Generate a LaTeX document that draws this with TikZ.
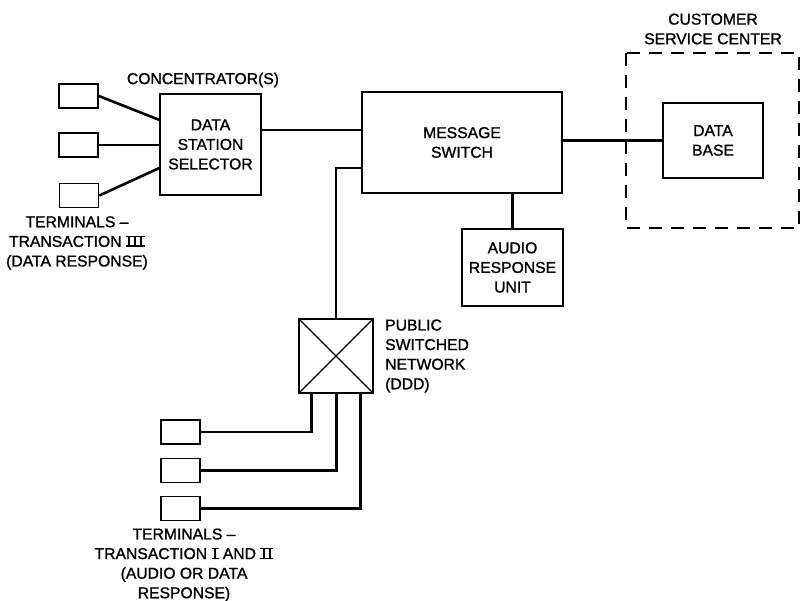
\documentclass[tikz,border=0pt]{standalone}
\usepackage{fontspec}
\setmainfont[FakeBold=1.2,AutoFakeBold=1.2]{Liberation Sans}
\usetikzlibrary{calc}
\newcommand\rstem{\rule{2pt}{11.2pt}}
\newcommand\rnum[1]{\setbox0\hbox{#1}\rlap{\rule[0pt]{\wd0}{1.5pt}}\rlap{\rule[\dimexpr\ht0-1.5pt\relax]{\wd0}{1.5pt}}\box0}
\newcommand\rI{\rnum{\kern2.5pt\rstem\kern2.5pt}}
\newcommand\rII{\rnum{\kern2.5pt\rstem\kern4pt\rstem\kern2.5pt}}
\newcommand\rIII{\rnum{\kern2.5pt\rstem\kern4pt\rstem\kern4pt\rstem\kern2.5pt}}
\begin{document}
\begin{tikzpicture}[x=1pt,y=-1pt,
  every node/.style={font=\fontsize{15.7}{19.6}\selectfont\bfseries},
  box/.style={draw,line width=1.7pt,inner sep=0pt},
  term/.style={box,minimum width=39pt,minimum height=24pt},
  conn/.style={line width=2.6pt},
  lbl/.style={align=center,inner sep=0pt}]
\useasboundingbox (0,0) rectangle (801,601);
% terminals (top left)
\node[term] (t1) at (78.5,96) {};
\node[term] (t2) at (78.5,145) {};
\node[term] (t3) at (79,195.5) {};
% main boxes
\node[box,minimum width=101pt,minimum height=101pt,align=center] (dss) at (210.5,144.5) {DATA\\STATION\\SELECTOR};
\node[box,minimum width=200pt,minimum height=101pt,align=center] (ms) at (462,142.5) {MESSAGE\\SWITCH};
\node[box,minimum width=101pt,minimum height=77pt,align=center] (aru) at (512.5,267.5) {AUDIO\\RESPONSE\\UNIT};
\node[box,minimum width=100pt,minimum height=75pt,align=center] (db) at (713,140.5) {DATA\\BASE};
\node[box,minimum width=74pt,minimum height=74pt] (psn) at (336,356) {};
\draw[line width=1.1pt] (psn.north west) -- (psn.south east) (psn.north east) -- (psn.south west);
% dashed customer service center
\draw[line width=1.7pt,dash pattern=on 13pt off 9pt] (626,53) rectangle (799,228);
% bottom terminals
\node[term] (b1) at (180.5,432) {};
\node[term] (b2) at (180.5,470.5) {};
\node[term] (b3) at (180.5,508.5) {};
% labels
\node[lbl] (conc) at (203,80) {CONCENTRATOR(S)};
\node[lbl] (tl) at (77,243) {TERMINALS --\\TRANSACTION \rIII\\(DATA RESPONSE)};
\node[lbl,align=left,anchor=west] (psnl) at (385,356) {PUBLIC\\SWITCHED\\NETWORK\\(DDD)};
\node[lbl] (csc) at (713,29) {CUSTOMER\\SERVICE CENTER};
\node[lbl] (bl) at (184,565) {TERMINALS --\\TRANSACTION \rI\ AND \rII\\(AUDIO OR DATA\\RESPONSE)};
% connectors
\coordinate (d1) at ($(dss.north west)!0.26!(dss.south west)$);
\coordinate (d3) at ($(dss.north west)!0.73!(dss.south west)$);
\draw[conn] (t1.east) -- (d1);
\draw[conn] (t2.east) -- (t2.east -| dss.west);
\draw[conn] (t3.east) -- (d3);
\coordinate (de) at ($(dss.north east)!0.36!(dss.south east)$);
\draw[conn] (de) -- (de -| ms.west);
\coordinate (mw) at ($(ms.north west)!0.75!(ms.south west)$);
\draw[conn] (mw) -| (psn.north);
\draw[conn] (ms.east |- db.west) -- (db.west);
\draw[conn] (aru.north) -- (aru.north |- ms.south);
\coordinate (p1) at ($(psn.south west)!0.18!(psn.south east)$);
\coordinate (p2) at ($(psn.south west)!0.51!(psn.south east)$);
\coordinate (p3) at ($(psn.south west)!0.82!(psn.south east)$);
\draw[conn] (b1.east) -| (p1);
\draw[conn] (b2.east) -| (p2);
\draw[conn] (b3.east) -| (p3);
\end{tikzpicture}
\end{document}
